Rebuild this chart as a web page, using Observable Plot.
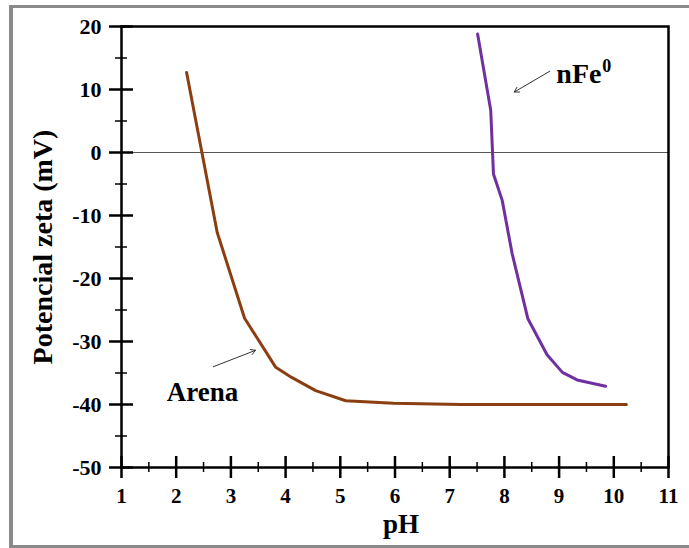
<!DOCTYPE html>
<html><head><meta charset="utf-8">
<script src="https://cdn.jsdelivr.net/npm/d3@7"></script>
<script src="https://cdn.jsdelivr.net/npm/@observablehq/plot@0.6"></script>
<style>
body{margin:0;background:#fff;}
#wrap{position:relative;width:689px;height:548px;overflow:hidden;background:#fff;}
#wrap svg{position:absolute;left:0;top:0;}
#border{position:absolute;left:9px;top:5px;width:700px;height:543px;box-sizing:border-box;border-left:4px solid #8a8a8a;border-top:3px solid #8a8a8a;border-bottom:3px solid #8a8a8a;pointer-events:none;}
</style></head><body><div id="wrap"><div id="border"></div></div>
<script>
// Data
const arenaPH   = [2.19, 2.75, 3.25, 3.82, 4.11, 4.55, 5.10, 5.97, 7.20, 10.23];
const arenaZeta = [12.7, -12.7, -26.3, -34.1, -35.7, -37.8, -39.4, -39.8, -40.0, -40.0];
const nfePH     = [7.51, 7.75, 7.80, 7.96, 8.14, 8.43, 8.78, 9.06, 9.33, 9.85];
const nfeZeta   = [18.8, 6.7, -3.4, -7.6, -16.0, -26.4, -32.1, -34.9, -36.1, -37.1];
const xTicks = [1, 2, 3, 4, 5, 6, 7, 8, 9, 10, 11];
const xMinor = [1.5, 2.5, 3.5, 4.5, 5.5, 6.5, 7.5, 8.5, 9.5, 10.5];
const yTicks = [20, 10, 0, -10, -20, -30, -40, -50];
const yMinor = [15, 5, -5, -15, -25, -35, -45];
const labels = [
  {name: "Arena", pH: 2.48, zeta: -38.0},
  {name: "nFe", pH: 8.95, zeta: 12.5}
];
const arrows = [
  {from: [2.68, -34.0], to: [3.45, -31.4]},
  {from: [8.83, 12.9], to: [8.18, 9.6]}
];
const xTitle = "pH";
const yTitle = "Potencial zeta (mV)";

const arena = arenaPH.map((p, i) => ({pH: p, zeta: arenaZeta[i]}));
const nfe = nfePH.map((p, i) => ({pH: p, zeta: nfeZeta[i]}));
const font = "'Liberation Serif', 'Times New Roman', serif";
const fmt = d => String(d);

const chart = Plot.plot({
  width: 689, height: 548,
  marginLeft: 121, marginRight: 21, marginTop: 26, marginBottom: 81,
  style: {fontFamily: font, fontWeight: "bold", color: "black", background: "transparent"},
  x: {domain: [1, 11]},
  y: {domain: [-50, 20]},
  marks: [
    Plot.ruleY([0], {stroke: "#555", strokeWidth: 1.2}),
    // y axis ticks (outward + inward)
    Plot.axisY(yTicks, {anchor: "left", tickSize: 12, tickPadding: 8, tickFormat: fmt, fontSize: 22, strokeWidth: 2.5, label: null}),
    Plot.axisY(yTicks, {anchor: "left", tickSize: 12, dx: 12, tickFormat: () => "", strokeWidth: 2.5, label: null}),
    Plot.axisY(yMinor, {anchor: "left", tickSize: 6, tickFormat: () => "", strokeWidth: 1.5, label: null}),
    Plot.axisY(yMinor, {anchor: "left", tickSize: 6, dx: 6, tickFormat: () => "", strokeWidth: 1.5, label: null}),
    // x axis ticks
    Plot.axisX(xTicks, {anchor: "bottom", tickSize: 11, tickPadding: 10, tickFormat: fmt, fontSize: 21, strokeWidth: 2.5, label: null}),
    Plot.axisX(xTicks, {anchor: "bottom", tickSize: 11, dy: -11, tickFormat: () => "", strokeWidth: 2.5, label: null}),
    Plot.axisX(xMinor, {anchor: "bottom", tickSize: 5, tickFormat: () => "", strokeWidth: 1.5, label: null}),
    Plot.axisX(xMinor, {anchor: "bottom", tickSize: 5, dy: -5, tickFormat: () => "", strokeWidth: 1.5, label: null}),
    Plot.frame({stroke: "black", strokeWidth: 2.5}),
    Plot.line(arena, {x: "pH", y: "zeta", stroke: "#8B3F10", strokeWidth: 3}),
    Plot.line(nfe, {x: "pH", y: "zeta", stroke: "#7030A0", strokeWidth: 3}),
    Plot.arrow(arrows, {x1: d => d.from[0], y1: d => d.from[1], x2: d => d.to[0], y2: d => d.to[1], stroke: "#333", strokeWidth: 1, headLength: 8}),
    Plot.text([labels[0]], {x: "pH", y: "zeta", text: "name", fontSize: 27, fontWeight: "bold", fill: "black"}),
    Plot.text([labels[1]], {x: "pH", y: "zeta", text: "name", textAnchor: "start", fontSize: 28, fontWeight: "bold", fill: "black"}),
    Plot.text([labels[1]], {x: "pH", y: "zeta", text: () => "0", textAnchor: "start", dx: 46, dy: -8, fontSize: 18, fontWeight: "bold", fill: "black"}),
    Plot.text([xTitle], {frameAnchor: "bottom", textAnchor: "middle", dx: 6, dy: 65, fontSize: 27, fontWeight: "bold", fill: "black"}),
    Plot.text([yTitle], {frameAnchor: "left", textAnchor: "middle", rotate: -90, dx: -78, fontSize: 28, fontWeight: "bold", fill: "black"})
  ]
});
document.getElementById("wrap").insertBefore(chart, document.getElementById("border"));
</script>
</body></html>
